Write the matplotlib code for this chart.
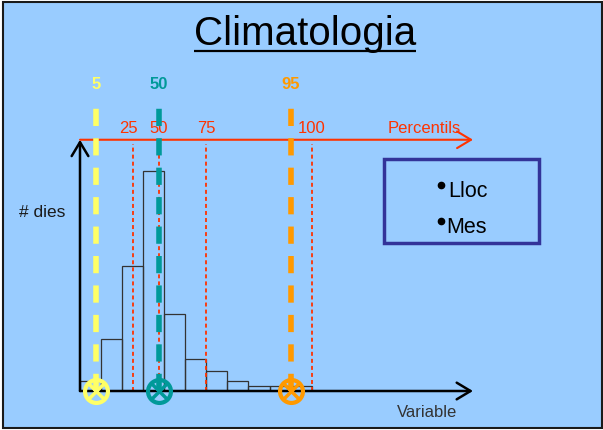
# -*- coding: UTF-8 -*-

"""Climatologia slide: histogram of a variable (number of days) with its
percentiles marked on a second, red axis
"""

#+++++++++++++++++++++++++++++++++++++++++++++++++++++++++++++++++++++++++++++#

import numpy as np
import matplotlib
matplotlib.use('Agg')
import matplotlib.pyplot as plt
from matplotlib.patches import Rectangle

plt.rcParams['font.family'] = ['Liberation Sans', 'DejaVu Sans']

#+++++++++++++++++++++++++++++++++++++++++++++++++++++++++++++++++++++++++++++#

TITLE = 'Climatologia'

# histogram, bins of unit width in the variable
BIN_EDGES = np.arange(0, 12)
COUNTS = [4, 21, 50, 88, 31, 13, 8, 4, 2, 2, 2]

# percentiles on the red axis
PERC_LABELS = ['25', '50', '75', '100']
PERC_VALUES = [2.5, 3.73, 6.0, 11.0]

# highlighted percentiles
MARK_LABELS = ['5', '50', '95']
MARK_VALUES = [0.75, 3.74, 10.0]
MARK_COLORS = ['#FFFF66', '#009999', '#FF9900']

LEGEND_ITEMS = ['Lloc', 'Mes']

BG = '#99CCFF'
RED = '#FF3300'

W, H = 603, 431

#+++++++++++++++++++++++++++++++++++++++++++++++++++++++++++++++++++++++++++++#

if __name__ == '__main__':

  fig = plt.figure(figsize = (W / 100, H / 100), dpi = 100)
  fig.patch.set_facecolor('white')

  # slide background, pixel coordinates
  #---------------------------------------------------------------------------#

  bg = fig.add_axes([0, 0, 1, 1])
  bg.set_xlim(0, W)
  bg.set_ylim(H, 0)
  bg.axis('off')
  bg.add_patch(Rectangle((3, 3), 599, 426, fc = BG, ec = '#1a1a1a', lw = 1.5))

  title = bg.text(305, 45, TITLE, ha = 'center', va = 'baseline',
    fontsize = 29, color = 'black')
  fig.canvas.draw()
  bb = title.get_window_extent()
  bg.plot([bb.x0, bb.x1], [51.5, 51.5], color = 'black', lw = 1.6,
    solid_capstyle = 'butt')

  # legend-like box
  bg.add_patch(Rectangle((384, 160), 155, 84, fill = False,
    ec = '#333399', lw = 2.5))
  for i, item in enumerate(LEGEND_ITEMS):
    y = 197.5 + i * 36
    bg.plot(441, y - 11.5, 'o', ms = 4.5, color = 'black')
    bg.text(446 + (2 if i == 0 else 0), y, item, ha = 'left',
      va = 'baseline', fontsize = 15.5, color = 'black')

  # histogram axes
  #---------------------------------------------------------------------------#

  x_max = 393 / 21.06
  y_max = 124

  hx = fig.add_axes([80 / W, 1 - 392 / H, 393 / W, 310 / H])
  hx.set_xlim(0, x_max)
  hx.set_ylim(0, y_max)
  hx.axis('off')

  hx.bar(BIN_EDGES[:-1], COUNTS, width = 1, align = 'edge', fill = False,
    edgecolor = '#333333', lw = 0.9, zorder = 1)

  # red percentile axis
  for lab, v in zip(PERC_LABELS, PERC_VALUES):
    hx.plot([v, v], [0, 98.8], color = RED, lw = 1.3,
      ls = (0, (2.2, 1.7)), zorder = 2, clip_on = False)
    hx.annotate(lab, (v, 103.7), xytext = (-3 if lab == '25' else 0, 0),
      textcoords = 'offset points', ha = 'center', va = 'baseline',
      color = RED, fontsize = 12, annotation_clip = False)

  arrow = '->,head_length=0.5,head_width=0.3'

  hx.annotate('', xy = (x_max, 100.5), xytext = (0, 100.5),
    arrowprops = dict(arrowstyle = arrow, color = RED, lw = 1.5,
      mutation_scale = 20, shrinkA = 0, shrinkB = 0),
    annotation_clip = False, zorder = 3)
  hx.text(16.33, 103.7, 'Percentils', ha = 'center', va = 'baseline',
    color = RED, fontsize = 12)

  # black axes
  hx.annotate('', xy = (x_max, 0), xytext = (0, 0),
    arrowprops = dict(arrowstyle = arrow, color = 'black', lw = 1.8,
      mutation_scale = 20, shrinkA = 0, shrinkB = 0),
    annotation_clip = False, zorder = 3)
  hx.annotate('', xy = (0, 100.5), xytext = (0, 0),
    arrowprops = dict(arrowstyle = arrow, color = 'black', lw = 1.8,
      mutation_scale = 20, shrinkA = 0, shrinkB = 0),
    annotation_clip = False, zorder = 3)

  hx.text(16.5, -9.9, 'Variable', ha = 'center', va = 'baseline',
    color = '#333333', fontsize = 12)
  hx.text(-2.9, 70.1, '# dies', ha = 'left', va = 'baseline',
    color = '#1a1a1a', fontsize = 12.5)

  # highlighted percentiles
  for lab, v, c in zip(MARK_LABELS, MARK_VALUES, MARK_COLORS):
    top = 116 if lab == '95' else 117.5
    hx.plot([v, v], [0, top], color = c, lw = 4, ls = (0, (3.1, 2.2)),
      dash_capstyle = 'butt', zorder = 4, clip_on = False)
    hx.text(v, 121.1, lab, ha = 'center', va = 'baseline', color = c,
      fontsize = 12, fontweight = 'bold')
    hx.plot(v, 0, marker = 'o', ms = 16.5, mfc = 'none', mec = c, mew = 3,
      zorder = 6, clip_on = False)
    hx.plot(v, 0, marker = 'x', ms = 11, mew = 2.5, color = c, zorder = 6,
      clip_on = False)

  fig.savefig('out.png', dpi = 100)
